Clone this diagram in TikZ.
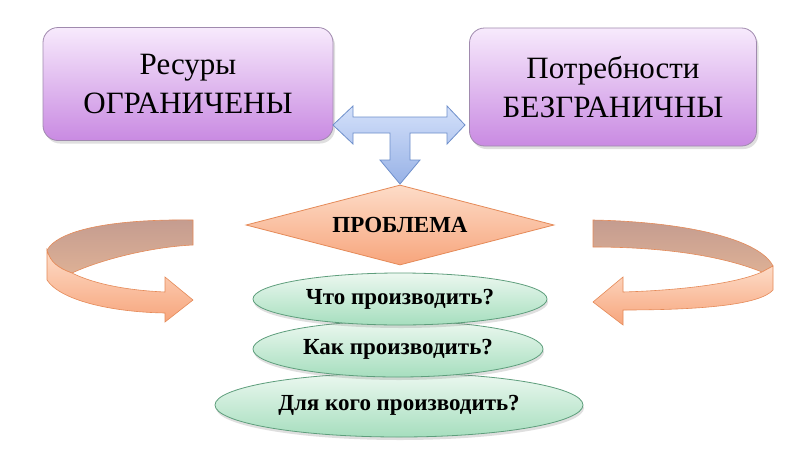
\documentclass[tikz,border=0pt]{standalone}
\usepackage{fontspec}
\setmainfont{Liberation Serif}
\usetikzlibrary{shapes.geometric,shadows}
\definecolor{boxtop}{HTML}{F7EAFC}
\definecolor{boxbot}{HTML}{C98AE2}
\definecolor{boxline}{HTML}{A08AAE}
\definecolor{bluetop}{HTML}{D3E0FA}
\definecolor{bluebot}{HTML}{98B2E6}
\definecolor{blueline}{HTML}{6E8FCB}
\definecolor{peachtop}{HTML}{FDDCC8}
\definecolor{peachbot}{HTML}{F7A57C}
\definecolor{peachline}{HTML}{E58A58}
\definecolor{darktop}{HTML}{C49C90}
\definecolor{darkbot}{HTML}{DDB095}
\definecolor{greentop}{HTML}{ECF8F0}
\definecolor{greenbot}{HTML}{A6DEBE}
\definecolor{greenline}{HTML}{5E9E7C}
\tikzset{
  topbox/.style={draw=boxline, line width=0.8pt, rounded corners=15pt,
    top color=boxtop, bottom color=boxbot, align=center,
    font=\fontsize{31}{39}\selectfont, inner sep=0pt,
    drop shadow={opacity=0.25, shadow xshift=2pt, shadow yshift=-3pt}},
  problem/.style={diamond, draw=peachline, line width=0.8pt, aspect=3.85,
    top color=peachtop, bottom color=peachbot, inner sep=0pt,
    minimum width=308pt, minimum height=80pt,
    font=\fontsize{23}{26}\selectfont\bfseries},
  question/.style={ellipse, draw=greenline, line width=0.8pt, inner sep=0pt,
    top color=greentop, bottom color=greenbot,
    font=\fontsize{23}{26}\selectfont\bfseries,
    drop shadow={opacity=0.25, shadow xshift=1pt, shadow yshift=-3pt}},
  tarrow/.style={draw=blueline, line width=0.8pt, top color=bluetop, bottom color=bluebot},
  backband/.style={draw=peachline, line width=0.6pt, top color=darktop, bottom color=darkbot},
  frontband/.style={draw=peachline, line width=0.6pt, top color=peachtop, bottom color=peachbot},
}
\begin{document}
\begin{tikzpicture}[x=1pt,y=-1pt]
\useasboundingbox (0,0) rectangle (800,450);
\fill[white] (0,0) rectangle (800,450);

% top boxes
\node[topbox, minimum width=290pt, minimum height=113pt] (res) at (188,84) {Ресуры\\ОГРАНИЧЕНЫ};
\node[topbox, minimum width=287pt, minimum height=118pt] (need) at (613,87) {Потребности\\БЕЗГРАНИЧНЫ};

% T-shaped blue arrow
\path[tarrow] (333,125) -- (353,106) -- (353,117) -- (447,117) -- (447,106) -- (465,125)
  -- (447,144) -- (447,133) -- (410,133) -- (410,160) -- (420,160) -- (400,184)
  -- (380,160) -- (390,160) -- (390,133) -- (353,133) -- (353,144) -- cycle;

% problem diamond
\node[problem] (prob) at (400,225) {ПРОБЛЕМА};

% questions
\node[question, minimum width=368pt, minimum height=64pt] (q3) at (399,405) {Для кого производить?};
\node[question, minimum width=290pt, minimum height=56pt] (q2) at (398,349) {Как производить?};
\node[question, minimum width=294pt, minimum height=52pt] (q1) at (400,299) {Что производить?};

% left curved arrow
\path[backband] (193,220) .. controls (120,219) and (60,228) .. (47,250)
  .. controls (50,262) and (58,268) .. (72,273)
  .. controls (100,260) and (150,247) .. (193,245) -- cycle;
\path[frontband] (47,250) -- (47,280) .. controls (60,300) and (110,312) .. (165,313)
  -- (165,322) -- (193,300) -- (165,277) -- (165,292)
  .. controls (120,290) and (90,282) .. (72,273)
  .. controls (58,268) and (50,262) .. (47,250) -- cycle;

% right curved arrow
\path[backband] (593,220) .. controls (690,222) and (760,240) .. (773,266)
  -- (762,272) .. controls (720,255) and (660,247) .. (593,247) -- cycle;
\path[frontband] (773,266) -- (773,290) .. controls (760,305) and (700,310) .. (623,310)
  -- (623,325) -- (593,302) -- (623,277) -- (623,292)
  .. controls (690,290) and (740,282) .. (762,272) -- cycle;
\end{tikzpicture}
\end{document}
